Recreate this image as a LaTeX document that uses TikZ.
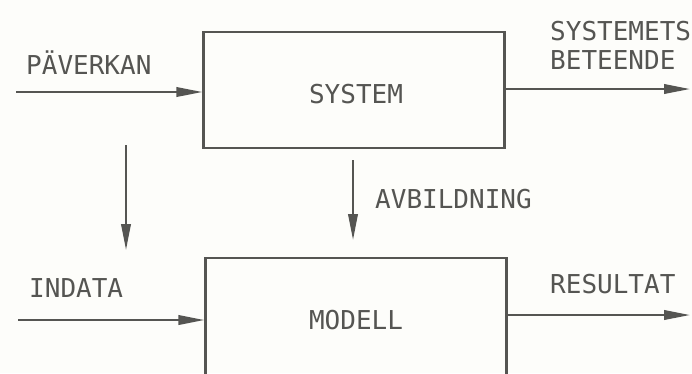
\documentclass[tikz,border=0pt]{standalone}
\usepackage{fontspec}
\setmonofont{DejaVu Sans Mono}
\usetikzlibrary{arrows.meta}
\definecolor{ink}{RGB}{85,85,82}
\definecolor{paper}{RGB}{253,253,250}
\begin{document}
\begin{tikzpicture}[x=1pt,y=-1pt,
  block/.style={draw=ink,line width=2.4pt,minimum width=301pt,inner sep=0pt},
  lbl/.style={text=ink,font=\ttfamily\fontsize{26}{30}\selectfont,inner sep=0pt,anchor=west},
  flow/.style={draw=ink,line width=2.2pt,-{Triangle[length=26pt,width=9.5pt]}}]
  \fill[paper] (0,0) rectangle (692,373);
  \useasboundingbox (0,0) rectangle (692,373);

  % blocks
  \node[block,minimum height=116pt] (sys) at (354,90) {};
  \node[block,minimum height=118pt] (mod) at (356,317) {};
  \node[text=ink,font=\ttfamily\fontsize{26}{30}\selectfont] at (356,94) {SYSTEM};
  \node[text=ink,font=\ttfamily\fontsize{26}{30}\selectfont] at (356,320) {MODELL};

  % free ends of the flows
  \coordinate (inS) at (16,92);
  \coordinate (outS) at (690,89);
  \coordinate (inM) at (18,320);
  \coordinate (outM) at (690,315);
  \coordinate (vT) at (126,145);
  \coordinate (vB) at (126,250);
  \coordinate (aT) at (353,160);
  \coordinate (aB) at (353,240);

  \draw[flow] (inS) -- (inS -| sys.west);
  \draw[flow] (outS -| sys.east) -- (outS);
  \draw[flow] (inM) -- (inM -| mod.west);
  \draw[flow] (outM -| mod.east) -- (outM);
  \draw[flow] (vT) -- (vB);
  \draw[flow] (aT) -- (aB);

  % labels
  \node[lbl] (p) at (26,63) {PÄVERKAN};
  \node[lbl] (s1) at (550,31) {SYSTEMETS};
  \node[lbl] (s2) at (550,60) {BETEENDE};
  \node[lbl] (a) at (375,199) {AVBILDNING};
  \node[lbl] (i) at (29,288) {INDATA};
  \node[lbl] (r) at (550,284) {RESULTAT};
\end{tikzpicture}
\end{document}
